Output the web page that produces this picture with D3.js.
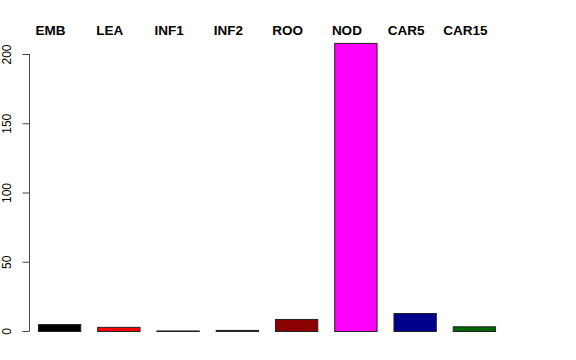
<!DOCTYPE html>
<html>
<head>
<meta charset="utf-8">
<script src="https://cdn.jsdelivr.net/npm/d3@7"></script>
<style>
  body { margin: 0; background: #fff; }
  text { font-family: "Liberation Sans", Arial, sans-serif; }
</style>
</head>
<body>
<svg id="chart" width="576" height="360"></svg>
<script>
// bar categories, values and fills
var tissues = ["EMB", "LEA", "INF1", "INF2", "ROO", "NOD", "CAR5", "CAR15"];
var counts = [5, 3, 0.4, 0.8, 8.7, 208, 13, 3.4];
var fills = ["#000000", "#ff0000", "#4a5e4a", "#2f2f50", "#8b0000", "#ff00ff", "#00008b", "#006400"];
var yTicks = [0, 50, 100, 150, 200];

(function() {
  var svg = d3.select("#chart");

  var x = d3.scaleBand()
    .domain(tissues)
    .range([21, 512])
    .paddingInner(0.2857)
    .paddingOuter(0.2857);

  var y = d3.scaleLinear()
    .domain([0, 200])
    .range([331, 54]);

  // bars
  svg.selectAll("rect.bar")
    .data(tissues)
    .join("rect")
      .attr("class", "bar")
      .attr("x", function(d) { return x(d) + 0.5; })
      .attr("width", x.bandwidth())
      .attr("y", function(d, i) { return y(counts[i]) + 0.5; })
      .attr("height", function(d, i) { return y(0) - y(counts[i]); })
      .style("fill", function(d, i) { return fills[i]; })
      .style("stroke", "#222")
      .style("stroke-width", 1);

  // labels on top
  svg.selectAll("text.lab")
    .data(tissues)
    .join("text")
      .attr("class", "lab")
      .attr("x", function(d) { return x(d) + x.bandwidth() / 2 - 8.5; })
      .attr("y", 35)
      .attr("text-anchor", "middle")
      .style("font-size", "13.5px")
      .style("font-weight", "bold")
      .text(function(d) { return d; });

  // y axis, R style
  var axis = d3.axisLeft(y)
    .tickValues(yTicks)
    .tickSize(7)
    .tickPadding(0)
    .tickFormat(d3.format("d"));

  var g = svg.append("g")
    .attr("transform", "translate(29.5,0)")
    .call(axis);
  g.select(".domain")
    .attr("d", "M0," + y(0) + "V" + y(200))
    .style("stroke", "#444");
  g.selectAll(".tick line").style("stroke", "#444");
  g.selectAll(".tick text")
    .attr("x", null).attr("dy", null)
    .attr("transform", "translate(-19,0) rotate(-90)")
    .attr("text-anchor", "middle")
    .style("font-size", "12px")
    .style("fill", "#000")
    .style("font-family", "Liberation Sans, Arial, sans-serif");
})();
</script>
</body>
</html>
